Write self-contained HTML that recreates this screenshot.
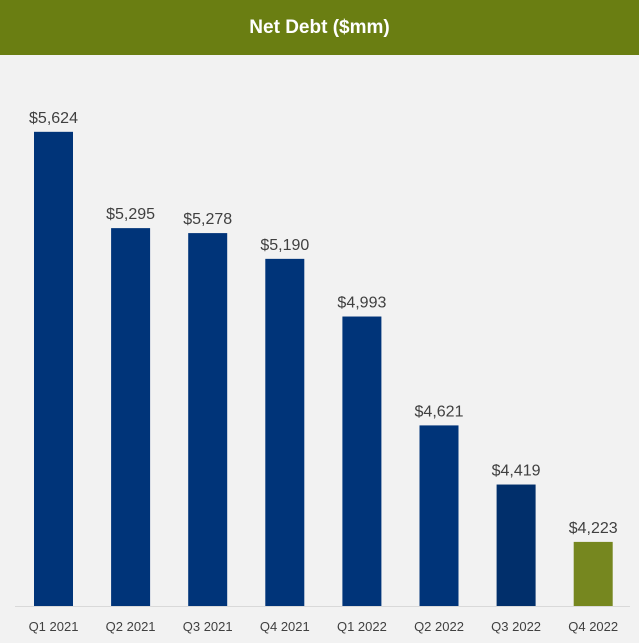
<!DOCTYPE html>
<html><head><meta charset="utf-8"><style>
body{margin:0;width:639px;height:643px;background:#f2f2f2;font-family:"Liberation Sans",sans-serif;overflow:hidden}
#hdr{position:absolute;left:0;top:0;width:639px;height:55px;background:#6a7e12;color:#fff;font-weight:bold;font-size:19px;text-align:center;line-height:55px}
</style></head><body>
<div id="hdr">Net Debt ($mm)</div>
<svg id="c" width="639" height="643" style="position:absolute;left:0;top:0"></svg>
<script>
const categories=["Q1 2021","Q2 2021","Q3 2021","Q4 2021","Q1 2022","Q2 2022","Q3 2022","Q4 2022"];
const values=[5624,5295,5278,5190,4993,4621,4419,4223];
const valueLabels=["$5,624","$5,295","$5,278","$5,190","$4,993","$4,621","$4,419","$4,223"];
const colors=["#003479","#003479","#003479","#003479","#003479","#003479","#012f6b","#76871f"];
const svg=document.getElementById('c');const ns="http://www.w3.org/2000/svg";
const base=606,minV=4004,k=0.2927;
const y=v=>base-(v-minV)*k;
const x=i=>34+i*77.1;
const bw=39;
function mk(t,a){const e=document.createElementNS(ns,t);for(const q in a)e.setAttribute(q,a[q]);svg.appendChild(e);return e;}
values.forEach((v,i)=>{
 const r=mk('rect',{x:x(i),y:y(v),width:bw,height:base-y(v),fill:colors[i]});
 
 
 const t=mk('text',{x:x(i)+bw/2,y:y(v)-9,'text-anchor':'middle','font-size':16,fill:'#404040','font-family':'Liberation Sans'});
 t.textContent=valueLabels[i];
 
 
 const c=mk('text',{x:x(i)+bw/2,y:631,'text-anchor':'middle','font-size':13,fill:'#404040','font-family':'Liberation Sans'});
 c.textContent=categories[i];
 
 
});
const ax=mk('line',{x1:15,x2:630,y1:base+0.5,y2:base+0.5,stroke:'#d9d9d9','stroke-width':1});


</script>
</body></html>
